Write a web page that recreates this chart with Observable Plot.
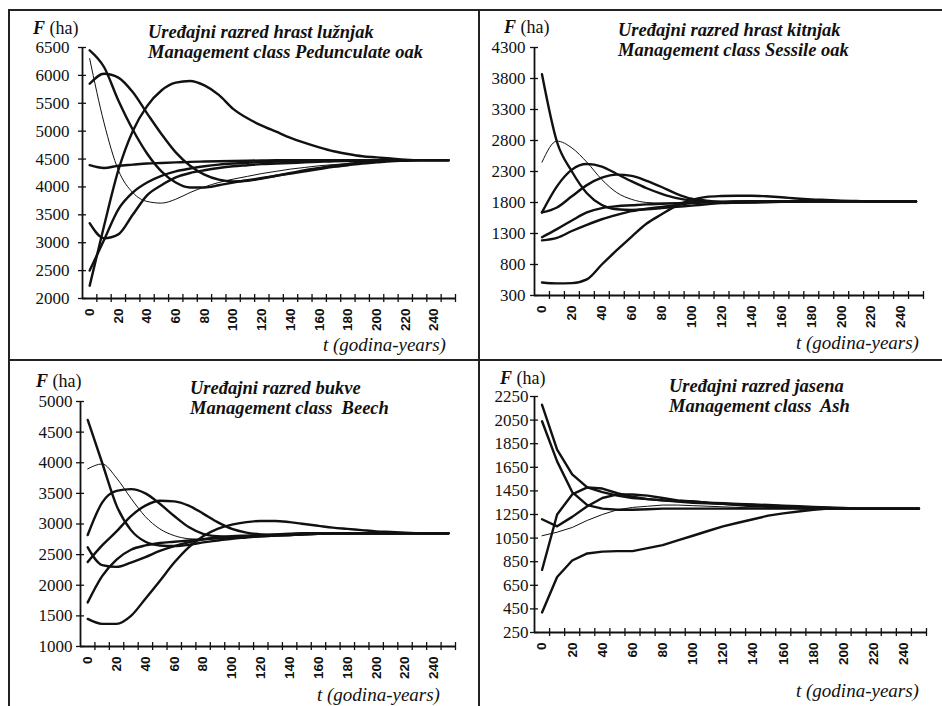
<!DOCTYPE html>
<html><head><meta charset="utf-8">
<script src="https://cdn.jsdelivr.net/npm/d3@7"></script>
<script src="https://cdn.jsdelivr.net/npm/@observablehq/plot@0.6"></script>
<style>
body{margin:0;background:#fff;}
#wrap{position:relative;width:942px;height:706px;overflow:hidden;font-family:"Liberation Serif","Times New Roman",serif;color:#111;}
.panel{position:absolute;}
.lbl{position:absolute;white-space:pre;color:#111;}
.ttl{font-weight:bold;font-style:italic;font-size:18.5px;line-height:20px;}
.fha{font-size:18px;line-height:20px;}
.fha b{font-style:italic;}
.tlab{font-style:italic;font-size:19px;line-height:20px;}
.bd{position:absolute;background:#222;z-index:5;}
</style></head><body><div id="wrap"></div>
<script>
// ---- categories (years) ----
const years = [0,10,20,30,40,50,60,70,80,90,100,110,120,130,140,150,160,170,180,190,200,210,220,230,240,250];
const xTickMarks = [5,15,25,35,45,55,65,75,85,95,105,115,125,135,145,155,165,175,185,195,205,215,225,235,245,255];
const xTickLabels = [0,20,40,60,80,100,120,140,160,180,200,220,240];

// ---- Panel 1: Pedunculate oak ----
const oakP_yTicks = [2000,2500,3000,3500,4000,4500,5000,5500,6000,6500];
const oakP_s1 = [6450,6150,5550,5030,4600,4280,4080,3990,3990,4030,4080,4120,4160,4200,4240,4280,4320,4360,4390,4420,4440,4460,4470,4480,4480,4480];
const oakP_s2 = [6300,5150,4300,3900,3740,3710,3780,3900,4000,4080,4140,4190,4240,4280,4320,4350,4380,4400,4420,4440,4455,4465,4475,4480,4480,4480];
const oakP_s3 = [5850,6030,5960,5700,5320,4950,4620,4380,4220,4130,4100,4110,4150,4200,4250,4300,4340,4380,4410,4440,4460,4470,4480,4480,4480,4480];
const oakP_s4 = [4390,4340,4380,4400,4420,4430,4440,4450,4455,4460,4465,4470,4475,4480,4480,4480,4480,4480,4480,4480,4480,4480,4480,4480,4480,4480];
const oakP_s5 = [3350,3080,3150,3500,3850,4030,4170,4250,4300,4340,4370,4390,4410,4420,4430,4440,4450,4460,4465,4470,4475,4480,4480,4480,4480,4480];
const oakP_s6 = [2500,3050,3600,3900,4080,4200,4280,4330,4370,4400,4420,4435,4445,4455,4460,4465,4470,4475,4480,4480,4480,4480,4480,4480,4480,4480];
const oakP_s7 = [2230,3300,4300,5000,5450,5730,5870,5900,5820,5650,5400,5230,5100,4990,4880,4790,4710,4640,4590,4550,4530,4510,4490,4480,4480,4480];

// ---- Panel 2: Sessile oak ----
const oakS_yTicks = [300,800,1300,1800,2300,2800,3300,3800,4300];
const oakS_s1 = [3870,2780,2300,1950,1760,1690,1680,1690,1710,1730,1750,1770,1790,1800,1810,1815,1820,1820,1820,1820,1820,1820,1820,1820,1820,1820];
const oakS_s2 = [2450,2790,2680,2450,2170,1960,1850,1800,1790,1790,1800,1810,1815,1820,1820,1820,1820,1820,1820,1820,1820,1820,1820,1820,1820,1820];
const oakS_s3 = [1640,2060,2330,2420,2380,2260,2140,2030,1940,1870,1830,1810,1800,1800,1805,1810,1815,1820,1820,1820,1820,1820,1820,1820,1820,1820];
const oakS_s4 = [1640,1720,1900,2080,2200,2250,2230,2150,2050,1940,1860,1830,1810,1800,1800,1805,1810,1815,1820,1820,1820,1820,1820,1820,1820,1820];
const oakS_s5 = [1240,1370,1510,1640,1710,1740,1755,1770,1780,1790,1800,1805,1810,1815,1820,1820,1820,1820,1820,1820,1820,1820,1820,1820,1820,1820];
const oakS_s6 = [1190,1230,1340,1440,1530,1600,1660,1700,1730,1760,1790,1805,1810,1815,1820,1820,1820,1820,1820,1820,1820,1820,1820,1820,1820,1820];
const oakS_s7 = [510,495,500,560,800,1030,1250,1460,1610,1750,1840,1890,1905,1910,1910,1900,1885,1865,1850,1840,1830,1825,1820,1820,1820,1820];

// ---- Panel 3: Beech ----
const beech_yTicks = [1000,1500,2000,2500,3000,3500,4000,4500,5000];
const beech_s1 = [4700,4000,3300,2900,2710,2650,2640,2660,2700,2730,2760,2780,2800,2810,2820,2830,2840,2850,2850,2850,2850,2850,2850,2850,2850,2850];
const beech_s2 = [3900,3980,3750,3420,3120,2920,2810,2760,2750,2760,2770,2790,2800,2820,2830,2840,2850,2850,2850,2850,2850,2850,2850,2850,2850,2850];
const beech_s3 = [2820,3350,3540,3570,3500,3330,3130,2950,2840,2800,2790,2790,2800,2810,2820,2830,2840,2850,2850,2850,2850,2850,2850,2850,2850,2850];
const beech_s4 = [2380,2650,2880,3130,3300,3380,3370,3300,3170,3030,2920,2860,2830,2820,2820,2830,2840,2850,2850,2850,2850,2850,2850,2850,2850,2850];
const beech_s5 = [2620,2330,2300,2370,2460,2560,2640,2700,2750,2780,2800,2810,2820,2830,2840,2850,2850,2850,2850,2850,2850,2850,2850,2850,2850,2850];
const beech_s6 = [1720,2150,2420,2580,2650,2690,2710,2730,2750,2770,2790,2800,2810,2820,2830,2840,2850,2850,2850,2850,2850,2850,2850,2850,2850,2850];
const beech_s7 = [1450,1370,1370,1500,1780,2070,2370,2620,2800,2920,2990,3030,3050,3050,3030,3000,2970,2940,2920,2900,2880,2870,2860,2850,2850,2850];

// ---- Panel 4: Ash ----
const ash_yTicks = [250,450,650,850,1050,1250,1450,1650,1850,2050,2250];
const ash_s1 = [2180,1800,1590,1480,1440,1410,1390,1380,1370,1365,1360,1350,1345,1340,1335,1330,1325,1320,1315,1310,1305,1300,1300,1300,1300,1300];
const ash_s2 = [2040,1700,1440,1330,1300,1290,1290,1295,1300,1300,1300,1300,1300,1300,1300,1300,1300,1300,1300,1300,1300,1300,1300,1300,1300,1300];
const ash_s3 = [1210,1150,1230,1320,1390,1420,1420,1410,1390,1370,1360,1350,1340,1330,1320,1315,1310,1305,1300,1300,1300,1300,1300,1300,1300,1300];
const ash_s4 = [780,1250,1420,1480,1470,1430,1400,1380,1370,1360,1350,1345,1340,1335,1330,1325,1320,1315,1310,1305,1300,1300,1300,1300,1300,1300];
const ash_s5 = [1070,1100,1140,1200,1250,1290,1310,1320,1330,1330,1325,1320,1315,1310,1305,1300,1300,1300,1300,1300,1300,1300,1300,1300,1300,1300];
const ash_s6 = [420,720,860,920,935,940,940,965,990,1030,1070,1110,1150,1180,1210,1240,1260,1275,1290,1300,1300,1300,1300,1300,1300,1300];

const THICK = 2.4, THIN = 1;

const panels = [
  {left: 8, top: 12, width: 470, height: 345, mL: 74, mR: 23, mT: 35, mB: 59, pad: 9,
   yTicks: oakP_yTicks, curve: "monotone-x",
   series: [[oakP_s1,THICK],[oakP_s2,THIN],[oakP_s3,THICK],[oakP_s4,THICK],[oakP_s5,THICK],[oakP_s6,THICK],[oakP_s7,THICK]]},
  {left: 478, top: 12, width: 464, height: 345, mL: 56, mR: 19, mT: 35, mB: 62, pad: 5,
   yTicks: oakS_yTicks, curve: "monotone-x",
   series: [[oakS_s1,THICK],[oakS_s2,THIN],[oakS_s3,THICK],[oakS_s4,THICK],[oakS_s5,THICK],[oakS_s6,THICK],[oakS_s7,THICK]]},
  {left: 8, top: 360, width: 470, height: 346, mL: 72, mR: 23, mT: 41, mB: 60, pad: 4,
   yTicks: beech_yTicks, curve: "monotone-x",
   series: [[beech_s1,THICK],[beech_s2,THIN],[beech_s3,THICK],[beech_s4,THICK],[beech_s5,THICK],[beech_s6,THICK],[beech_s7,THICK]]},
  {left: 478, top: 360, width: 464, height: 346, mL: 56, mR: 16, mT: 36, mB: 74, pad: 2,
   yTicks: ash_yTicks, curve: "linear",
   series: [[ash_s1,THICK],[ash_s2,THICK],[ash_s3,THICK],[ash_s4,THICK],[ash_s5,THIN],[ash_s6,THICK]]}
];

const wrap = document.getElementById("wrap");

for (const p of panels) {
  const yDom = [p.yTicks[0], p.yTicks[p.yTicks.length - 1]];
  const lines = p.series.map(([vals, w]) =>
    Plot.line(years.map((t, i) => ({t, F: vals[i]})), {x: "t", y: "F", stroke: "#111", strokeWidth: w, curve: p.curve, strokeLinejoin: "round"}));
  const chart = Plot.plot({
    width: p.width, height: p.height,
    marginLeft: p.mL, marginRight: p.mR, marginTop: p.mT, marginBottom: p.mB,
    x: {domain: [-5, 255], axis: null},
    y: {domain: yDom, axis: null},
    style: {background: "transparent", color: "#111", overflow: "visible"},
    marks: [
      ...lines,
      Plot.ruleX([-5], {stroke: "#111", strokeWidth: 1.8}),
      Plot.ruleY([yDom[0]], {stroke: "#111", strokeWidth: 1.8}),
      Plot.axisY({ticks: p.yTicks, tickSize: 8, dx: 4, tickPadding: p.pad, label: null,
        tickFormat: d => String(d), fontFamily: "Liberation Serif", fontSize: 17, strokeWidth: 1.3}),
      Plot.axisX({ticks: xTickMarks, tickSize: 8, dy: -4, label: null, tickFormat: () => "", strokeWidth: 1.3}),
      Plot.axisX({ticks: xTickLabels, tickSize: 0, tickRotate: -90, tickPadding: 10, label: null,
        tickFormat: d => String(d), fontFamily: "Liberation Sans", fontWeight: "bold", fontSize: 13.5})
    ]
  });
  chart.classList.add("panel");
  chart.style.left = p.left + "px";
  chart.style.top = p.top + "px";
  wrap.appendChild(chart);
}

// ---- text labels ----
const texts = [
  {cls: "fha", left: 33, top: 18, html: "<b>F</b> (ha)"},
  {cls: "ttl", left: 148, top: 22, html: "Uređajni razred hrast lužnjak\nManagement class Pedunculate oak"},
  {cls: "tlab", left: 323, top: 335, html: "t (godina-years)"},
  {cls: "fha", left: 504, top: 17, html: "<b>F</b> (ha)"},
  {cls: "ttl", left: 618, top: 20, html: "Uređajni razred hrast kitnjak\nManagement class Sessile oak"},
  {cls: "tlab", left: 796, top: 333, html: "t (godina-years)"},
  {cls: "fha", left: 36, top: 371, html: "<b>F</b> (ha)"},
  {cls: "ttl", left: 190, top: 378, html: "Uređajni razred bukve\nManagement class  Beech"},
  {cls: "tlab", left: 317, top: 685, html: "t (godina-years)"},
  {cls: "fha", left: 500, top: 368, html: "<b>F</b> (ha)"},
  {cls: "ttl", left: 669, top: 376, html: "Uređajni razred jasena\nManagement class  Ash"},
  {cls: "tlab", left: 796, top: 681, html: "t (godina-years)"}
];
for (const t of texts) {
  const d = document.createElement("div");
  d.className = "lbl " + t.cls;
  d.style.left = t.left + "px";
  d.style.top = t.top + "px";
  d.innerHTML = t.html;
  wrap.appendChild(d);
}

// ---- panel frame lines ----
const borders = [
  {left: 8, top: 9, width: 934, height: 1.5},
  {left: 8, top: 9, width: 1.5, height: 697},
  {left: 478, top: 9, width: 1.5, height: 697},
  {left: 8, top: 359, width: 934, height: 1.5}
];
for (const b of borders) {
  const d = document.createElement("div");
  d.className = "bd";
  Object.assign(d.style, {left: b.left + "px", top: b.top + "px", width: b.width + "px", height: b.height + "px"});
  wrap.appendChild(d);
}
</script>
</body></html>
